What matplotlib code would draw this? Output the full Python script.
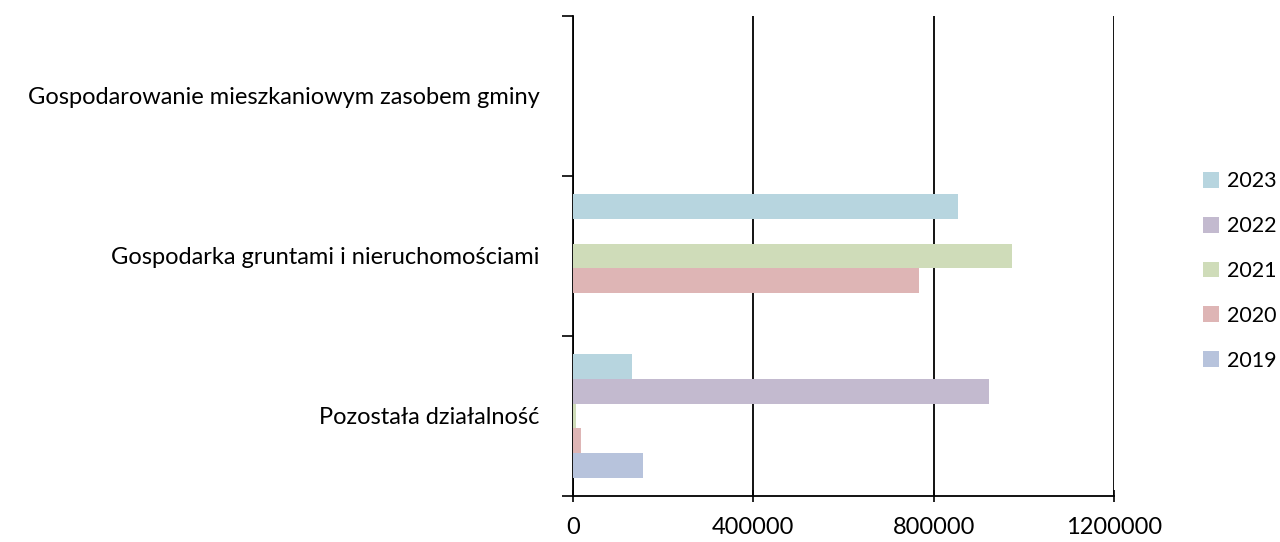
import matplotlib
matplotlib.use("Agg")
import matplotlib.pyplot as plt
import numpy as np
from matplotlib.patches import Patch

plt.rcParams['font.family'] = ['Lato', 'DejaVu Sans']

categories = ["Pozostała działalność",
              "Gospodarka gruntami i nieruchomościami",
              "Gospodarowanie mieszkaniowym zasobem gminy"]
years = ["2019", "2020", "2021", "2022", "2023"]
# values per year, in category order above
v2019 = [155000, 0, 0]
v2020 = [18000, 767000, 0]
v2021 = [6000, 973000, 0]
v2022 = [922000, 0, 0]
v2023 = [131000, 853000, 0]
colors = ["#B7C3DC", "#DEB5B5", "#CFDCB9", "#C3BACF", "#B7D5DF"]

series = [v2019, v2020, v2021, v2022, v2023]
fs = 17

fig = plt.figure(figsize=(12.8, 5.42), dpi=100)
ax = fig.add_axes([573/1280, 1-496/542, (1114-573)/1280, 480/542])

y = np.arange(len(categories))
h = 0.77 / len(years)
for i, vals in enumerate(series):
    ax.barh(y + (i - 2) * h, vals, height=h, color=colors[i], linewidth=0, zorder=3)

ax.set_xlim(0, 1200000)
ax.set_ylim(-0.5, 2.5)
ax.set_xticks([0, 400000, 800000, 1200000])
ax.set_xticklabels(["0", "400000", "800000", "1200000"])
ax.set_yticks([-0.5, 0.5, 1.5, 2.5], minor=False)
ax.set_yticklabels([])
ax.set_yticks(y, minor=True)
ax.set_yticklabels(categories, minor=True)
ax.tick_params(axis='y', which='minor', length=0, pad=24, labelsize=fs)
ax.tick_params(axis='y', which='major', length=8, width=1.2, direction='out')
ax.tick_params(axis='x', length=8, width=1.2, direction='inout', pad=11, labelsize=fs)
ax.grid(axis='x', color='black', linewidth=1.3, zorder=1)
for s in ['top', 'right']:
    ax.spines[s].set_visible(False)
for s in ['left', 'bottom']:
    ax.spines[s].set_linewidth(1.3)

handles = [Patch(facecolor=colors[i], edgecolor='none', label=years[i]) for i in range(len(years))][::-1]
fig.legend(handles=handles, loc='center left', bbox_to_anchor=(1203/1280, 1-271/542),
           frameon=False, fontsize=15.5, handlelength=0.75, handleheight=0.75,
           handletextpad=0.35, labelspacing=1.15, borderpad=0, borderaxespad=0)

plt.savefig("out.png", dpi=100)
